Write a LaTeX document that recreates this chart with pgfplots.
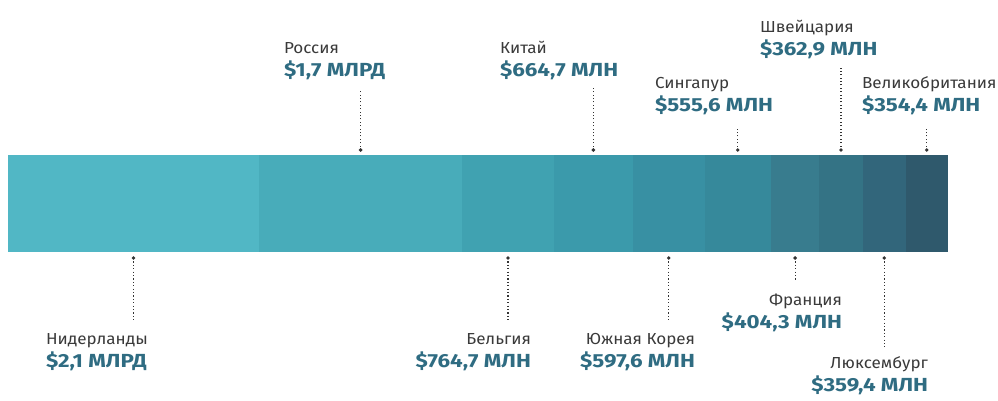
\documentclass[border=0pt]{standalone}
\usepackage{pgfplots}
\pgfplotsset{compat=1.18}
\usepackage{fontspec}
\setmainfont{Fira Sans}
\newfontfamily\namefont[FakeStretch=1.07]{Fira Sans}
\newfontfamily\valfont[FakeStretch=1.18]{Fira Sans}
\definecolor{c1}{HTML}{51B7C5}
\definecolor{c2}{HTML}{48ACBA}
\definecolor{c3}{HTML}{40A2B1}
\definecolor{c4}{HTML}{3B9AAB}
\definecolor{c5}{HTML}{3890A3}
\definecolor{c6}{HTML}{36899B}
\definecolor{c7}{HTML}{387C8E}
\definecolor{c8}{HTML}{347385}
\definecolor{c9}{HTML}{32667B}
\definecolor{c10}{HTML}{2F596C}
\definecolor{nametxt}{HTML}{3A3A3A}
\definecolor{valtxt}{HTML}{2F6C82}
\definecolor{leadc}{HTML}{333333}
\newcommand{\nm}[1]{{\namefont\fontsize{16}{18}\selectfont\color{nametxt}#1}}
\newcommand{\vl}[1]{{\valfont\fontsize{19}{21}\selectfont\bfseries\color{valtxt}#1}}
\newcommand{\up}[2]{%
  \draw[leader] ([yshift=5bp]axis cs:#1,0.5) -- ([yshift=#2bp]axis cs:#1,0.5);
  \fill[leadc] ([yshift=5bp]axis cs:#1,0.5) circle[radius=1.9bp];}
\newcommand{\dn}[2]{%
  \draw[leader] ([yshift=-6bp]axis cs:#1,-0.5) -- ([yshift=-#2bp]axis cs:#1,-0.5);
  \fill[leadc] ([yshift=-6bp]axis cs:#1,-0.5) circle[radius=1.9bp];}
\begin{document}
\begin{tikzpicture}[x=1bp,y=1bp,
  leader/.style={leadc,line width=1.1bp,dash pattern=on 1.1bp off 2.3bp},
  lbl/.style={inner sep=0pt,outer sep=0pt}]
\path[use as bounding box] (-8,-148) rectangle (990,252);
\begin{axis}[
  at={(0,0)}, anchor=south west,
  scale only axis, width=940bp, height=97bp,
  hide axis, clip=false,
  xbar stacked, bar width=97bp,
  xmin=0, xmax=7863.6, ymin=-0.5, ymax=0.5,
  enlargelimits=false,
]
\addplot[fill=c1,draw=none] coordinates {(2100,0)};
\addplot[fill=c2,draw=none] coordinates {(1700,0)};
\addplot[fill=c3,draw=none] coordinates {(764.7,0)};
\addplot[fill=c4,draw=none] coordinates {(664.7,0)};
\addplot[fill=c5,draw=none] coordinates {(597.6,0)};
\addplot[fill=c6,draw=none] coordinates {(555.6,0)};
\addplot[fill=c7,draw=none] coordinates {(404.3,0)};
\addplot[fill=c8,draw=none] coordinates {(362.9,0)};
\addplot[fill=c9,draw=none] coordinates {(359.4,0)};
\addplot[fill=c10,draw=none] coordinates {(354.4,0)};
% leaders above (Russia, China, Singapore, Switzerland, UK)
\up{2950}{65}
\up{4897.05}{67}
\up{6104.8}{28}
\up{6968.35}{87}
\up{7686.4}{28}
% leaders below (Netherlands, Belgium, South Korea, France, Luxembourg)
\dn{1050}{68}
\dn{4182.35}{68}
\dn{5528.2}{68}
\dn{6584.75}{28}
\dn{7329.5}{95}
\end{axis}
% labels above
\node[lbl,anchor=base west] at (276,199) {\nm{Россия}};
\node[lbl,anchor=base west] at (276,176) {\vl{\$1,7 МЛРД}};
\node[lbl,anchor=base west] at (492,199) {\nm{Китай}};
\node[lbl,anchor=base west] at (492,176) {\vl{\$664,7 МЛН}};
\node[lbl,anchor=base west] at (647,164) {\nm{Сингапур}};
\node[lbl,anchor=base west] at (647,141) {\vl{\$555,6 МЛН}};
\node[lbl,anchor=base west] at (752,220) {\nm{Швейцария}};
\node[lbl,anchor=base west] at (752,197) {\vl{\$362,9 МЛН}};
\node[lbl,anchor=base west] at (854,164) {\nm{Великобритания}};
\node[lbl,anchor=base west] at (854,141) {\vl{\$354,4 МЛН}};
% labels below
\node[lbl,anchor=base west] at (38,-92) {\nm{Нидерланды}};
\node[lbl,anchor=base west] at (38,-115) {\vl{\$2,1 МЛРД}};
\node[lbl,anchor=base east] at (523,-92) {\nm{Бельгия}};
\node[lbl,anchor=base east] at (523,-115) {\vl{\$764,7 МЛН}};
\node[lbl,anchor=base east] at (687,-92) {\nm{Южная Корея}};
\node[lbl,anchor=base east] at (687,-115) {\vl{\$597,6 МЛН}};
\node[lbl,anchor=base east] at (834,-53) {\nm{Франция}};
\node[lbl,anchor=base east] at (834,-76) {\vl{\$404,3 МЛН}};
\node[lbl,anchor=base east] at (920,-116) {\nm{Люксембург}};
\node[lbl,anchor=base east] at (920,-139) {\vl{\$359,4 МЛН}};
\end{tikzpicture}
\end{document}
